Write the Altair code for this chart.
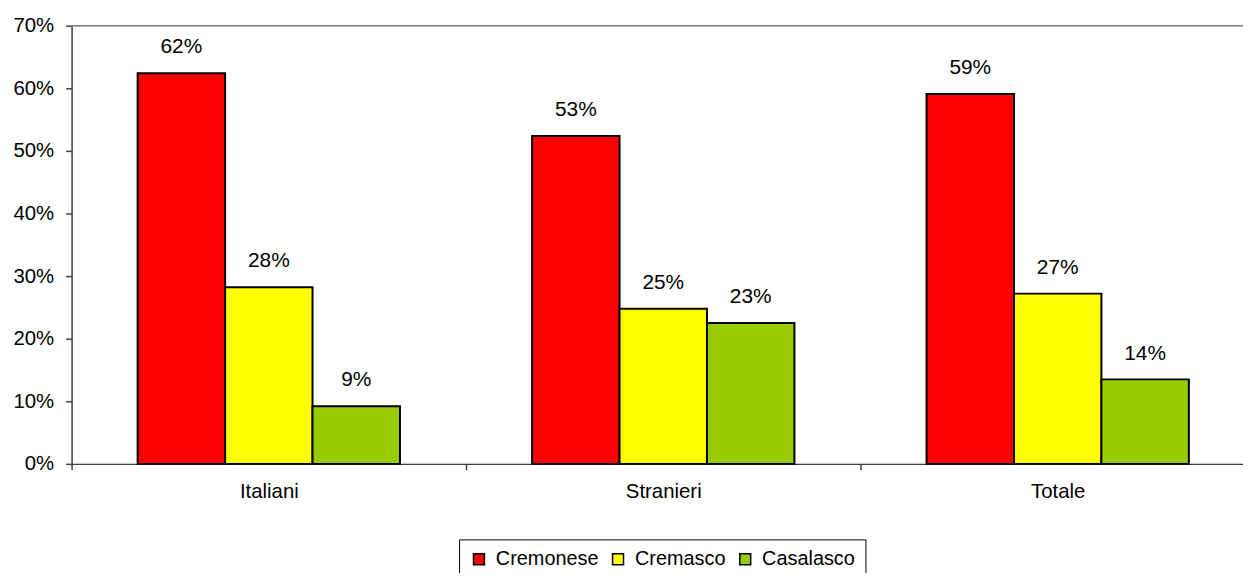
import altair as alt
import pandas as pd

categories = ["Italiani", "Stranieri", "Totale"]
series = ["Cremonese", "Cremasco", "Casalasco"]
colors = ["#FF0000", "#FFFF00", "#99CC00"]

cremonese = [62.4, 52.4, 59.1]
cremasco = [28.2, 24.8, 27.2]
casalasco = [9.2, 22.5, 13.5]

cremonese_lbl = ["62%", "53%", "59%"]
cremasco_lbl = ["28%", "25%", "27%"]
casalasco_lbl = ["9%", "23%", "14%"]

y_ticks = [0, 0.1, 0.2, 0.3, 0.4, 0.5, 0.6, 0.7]

rows = []
for vals, lbls, s in [(cremonese, cremonese_lbl, series[0]),
                      (cremasco, cremasco_lbl, series[1]),
                      (casalasco, casalasco_lbl, series[2])]:
    for c, v, l in zip(categories, vals, lbls):
        rows.append({"categoria": c, "serie": s, "valore": v / 100, "etichetta": l})
df = pd.DataFrame(rows)

FONT = "Liberation Sans"
RANGE_W = 1191
STEP = RANGE_W / 3

x_enc = alt.X(
    "categoria:N",
    sort=categories,
    title=None,
    scale=alt.Scale(range=[0, RANGE_W], paddingInner=0.335, paddingOuter=0.1675),
    axis=alt.Axis(
        labelAngle=0, tickBand="center", tickOffset=-STEP / 2, labelOffset=STEP / 2,
        tickSize=6, labelPadding=12,
        labelFontSize=20.5, labelFont=FONT, labelColor="black",
        domainColor="#404040", tickColor="#404040", domainWidth=1.5, tickWidth=1.5,
    ),
)
xo_enc = alt.XOffset("serie:N", sort=series, scale=alt.Scale(domain=series, paddingInner=0, paddingOuter=0))
y_enc = alt.Y(
    "valore:Q",
    title=None,
    scale=alt.Scale(domain=[0, 0.7], nice=False),
    axis=alt.Axis(
        values=y_ticks, format=".0%", tickSize=6, labelPadding=12,
        labelFontSize=20.5, labelFont=FONT, labelColor="black", grid=False,
        domainColor="#404040", tickColor="#404040", domainWidth=1.5, tickWidth=1.5,
    ),
)

bars = alt.Chart(df).mark_bar(stroke="black", strokeWidth=2).encode(
    x=x_enc,
    xOffset=xo_enc,
    y=y_enc,
    color=alt.Color(
        "serie:N",
        sort=series,
        scale=alt.Scale(domain=series, range=colors),
        legend=alt.Legend(
            title=None, orient="none", direction="horizontal",
            legendX=390, legendY=517,
            strokeColor="black", fillColor="white", padding=10,
            symbolType="square", symbolSize=121, symbolStrokeColor="black",
            symbolStrokeWidth=1.5, symbolOpacity=1,
            labelFontSize=20, labelFont=FONT, labelColor="black",
            labelOffset=7, columnPadding=9,
        ),
    ),
)

text = alt.Chart(df).mark_text(
    dy=-26, fontSize=21, font=FONT, color="black", baseline="middle", align="center"
).encode(
    x=alt.X("categoria:N", sort=categories),
    xOffset=alt.XOffset("serie:N", sort=series),
    y="valore:Q",
    text="etichetta:N",
)

top_line = alt.Chart(pd.DataFrame({"y": [0.7]})).mark_rule(
    color="#808080", strokeWidth=1.5
).encode(
    y=alt.Y("y:Q"),
    x=alt.value(0),
    x2=alt.value(RANGE_W),
)

chart = alt.layer(bars, text, top_line).properties(
    width=1179,
    height=441,
    autosize=alt.AutoSizeParams(type="none"),
    padding={"left": 64, "top": 16, "right": 0, "bottom": 108},
).configure_view(stroke=None).configure(background="white")

chart.save("out.html", embed_options={"renderer": "svg", "actions": False})
